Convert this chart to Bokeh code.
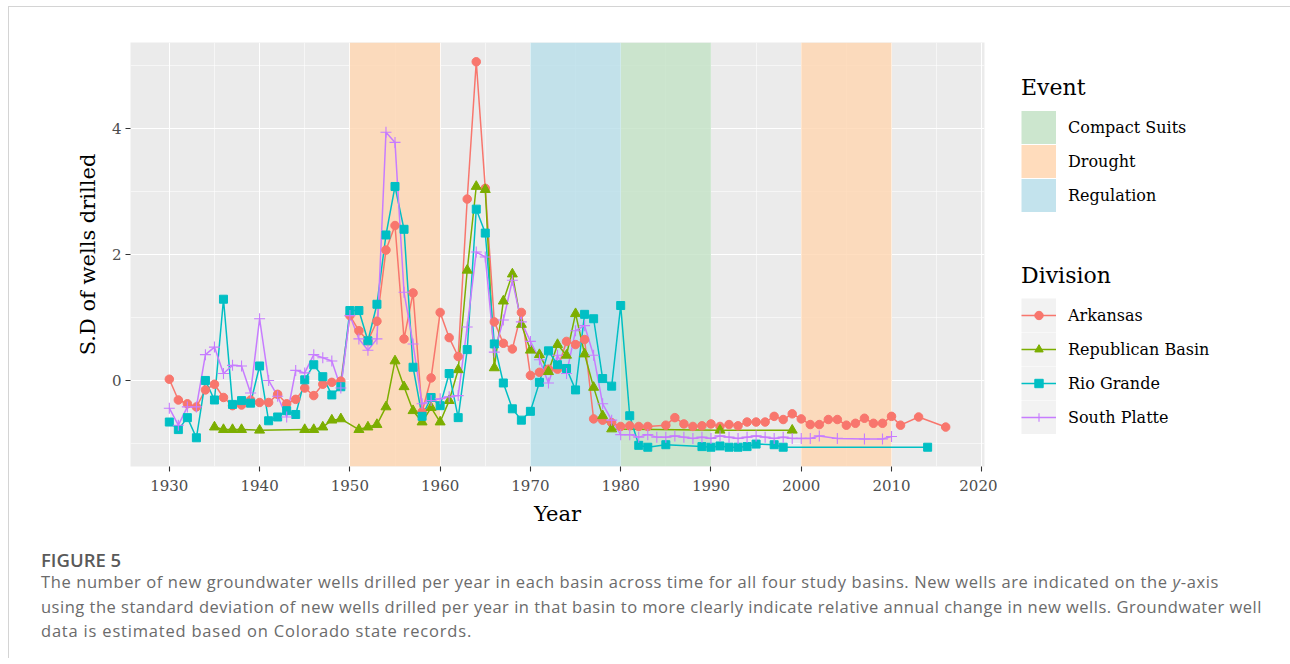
from bokeh.plotting import figure
from bokeh.models import Range1d, FixedTicker, Legend, LegendItem, ColumnDataSource, Div
from bokeh.layouts import column, row
from bokeh.embed import file_html
from bokeh.resources import INLINE

# ---------------- data ----------------
ark_years = [1930, 1931, 1932, 1933, 1934, 1935, 1936, 1937, 1938, 1939,
             1940, 1941, 1942, 1943, 1944, 1945, 1946, 1947, 1948, 1949,
             1950, 1951, 1952, 1953, 1954, 1955, 1956, 1957, 1958, 1959,
             1960, 1961, 1962, 1963, 1964, 1965, 1966, 1967, 1968, 1969,
             1970, 1971, 1972, 1973, 1974, 1975, 1976, 1977, 1978, 1979,
             1980, 1981, 1982, 1983, 1985, 1986, 1987, 1988, 1989,
             1990, 1991, 1992, 1993, 1994, 1995, 1996, 1997, 1998, 1999,
             2000, 2001, 2002, 2003, 2004, 2005, 2006, 2007, 2008, 2009,
             2010, 2011, 2013, 2016]
ark_vals = [0.02, -0.31, -0.37, -0.42, -0.15, -0.06, -0.27, -0.40, -0.39, -0.31,
            -0.35, -0.35, -0.22, -0.37, -0.30, -0.12, -0.24, -0.06, -0.03, -0.01,
            1.03, 0.79, 0.63, 0.94, 2.07, 2.46, 0.66, 1.39, -0.50, 0.04,
            1.08, 0.68, 0.38, 2.88, 5.06, 3.05, 0.93, 0.59, 0.50, 1.08,
            0.08, 0.13, 0.18, 0.18, 0.62, 0.57, 0.65, -0.61, -0.63, -0.67,
            -0.73, -0.72, -0.73, -0.73, -0.71, -0.59, -0.69, -0.73, -0.72,
            -0.69, -0.73, -0.70, -0.72, -0.66, -0.66, -0.66, -0.57, -0.62, -0.53,
            -0.61, -0.70, -0.70, -0.62, -0.62, -0.71, -0.68, -0.60, -0.68, -0.68,
            -0.57, -0.71, -0.58, -0.74]

rep_years = [1935, 1936, 1937, 1938, 1940, 1945, 1946, 1947, 1948, 1949,
             1951, 1952, 1953, 1954, 1955, 1956, 1957, 1958, 1959,
             1960, 1961, 1962, 1963, 1964, 1965, 1966, 1967, 1968, 1969,
             1970, 1971, 1972, 1973, 1974, 1975, 1976, 1977, 1978, 1979,
             1991, 1999]
rep_vals = [-0.74, -0.78, -0.78, -0.78, -0.79, -0.78, -0.78, -0.74, -0.63, -0.61,
            -0.78, -0.74, -0.70, -0.42, 0.31, -0.10, -0.48, -0.66, -0.43,
            -0.66, -0.32, 0.17, 1.75, 3.08, 3.03, 0.20, 1.26, 1.69, 0.89,
            0.48, 0.41, 0.14, 0.57, 0.40, 1.06, 0.42, -0.11, -0.56, -0.77,
            -0.79, -0.79]

rio_years = [1930, 1931, 1932, 1933, 1934, 1935, 1936, 1937, 1938, 1939,
             1940, 1941, 1942, 1943, 1944, 1945, 1946, 1947, 1948, 1949,
             1950, 1951, 1952, 1953, 1954, 1955, 1956, 1957, 1958, 1959,
             1960, 1961, 1962, 1963, 1964, 1965, 1966, 1967, 1968, 1969,
             1970, 1971, 1972, 1973, 1974, 1975, 1976, 1977, 1978, 1979,
             1980, 1981, 1982, 1983, 1985, 1989, 1990, 1991, 1992, 1993,
             1994, 1995, 1997, 1998, 2014]
rio_vals = [-0.66, -0.78, -0.59, -0.91, 0.00, -0.31, 1.29, -0.38, -0.32, -0.36,
            0.23, -0.64, -0.58, -0.48, -0.54, 0.01, 0.25, 0.06, -0.23, -0.10,
            1.11, 1.11, 0.63, 1.21, 2.31, 3.08, 2.40, 0.21, -0.57, -0.27,
            -0.40, 0.11, -0.59, 0.49, 2.72, 2.34, 0.58, -0.04, -0.45, -0.63,
            -0.49, -0.03, 0.47, 0.25, 0.19, -0.15, 1.05, 0.98, 0.03, -0.09,
            1.19, -0.56, -1.03, -1.06, -1.02, -1.05, -1.06, -1.04, -1.06, -1.06,
            -1.05, -1.01, -1.02, -1.06, -1.06]

sp_years = [1930, 1931, 1932, 1933, 1934, 1935, 1936, 1937, 1938, 1939,
            1940, 1941, 1942, 1943, 1944, 1945, 1946, 1947, 1948, 1949,
            1950, 1951, 1952, 1953, 1954, 1955, 1956, 1957, 1958, 1959,
            1960, 1961, 1962, 1963, 1964, 1965, 1966, 1967, 1968, 1969,
            1970, 1971, 1972, 1973, 1974, 1975, 1976, 1977, 1978, 1979,
            1980, 1981, 1982, 1983, 1984, 1985, 1986, 1987, 1988, 1989,
            1990, 1991, 1992, 1993, 1994, 1995, 1996, 1997, 1998, 1999,
            2000, 2001, 2002, 2004, 2007, 2009, 2010]
sp_vals = [-0.44, -0.71, -0.42, -0.42, 0.41, 0.53, 0.11, 0.24, 0.23, -0.20,
           0.98, 0.00, -0.25, -0.58, 0.16, 0.12, 0.41, 0.36, 0.31, -0.12,
           1.03, 0.66, 0.48, 0.66, 3.94, 3.78, 1.40, 0.58, -0.37, -0.32,
           -0.29, -0.26, -0.24, 0.85, 2.04, 1.96, 0.45, 0.96, 1.59, 0.93,
           0.62, 0.33, -0.04, 0.40, 0.11, 0.79, 0.87, 0.40, -0.37, -0.63,
           -0.86, -0.86, -0.90, -0.86, -0.90, -0.90, -0.88, -0.90, -0.92, -0.90,
           -0.92, -0.88, -0.90, -0.92, -0.90, -0.88, -0.90, -0.92, -0.90, -0.92,
           -0.92, -0.92, -0.88, -0.92, -0.93, -0.93, -0.89]

division_names = ["Arkansas", "Republican Basin", "Rio Grande", "South Platte"]
event_names = ["Compact Suits", "Drought", "Drought", "Regulation"]
event_start = [1980, 1950, 2000, 1970]
event_end = [1990, 1960, 2010, 1980]
event_order = ["Compact Suits", "Drought", "Regulation"]

x_ticks = [1930, 1940, 1950, 1960, 1970, 1980, 1990, 2000, 2010, 2020]
x_minor = [1925, 1935, 1945, 1955, 1965, 1975, 1985, 1995, 2005, 2015]
y_ticks = [0, 2, 4]
y_minor = [-1, 1, 3, 5]

# ---------------- styling ----------------
SERIF = "DejaVu Serif"
div_colors = ["#F8766D", "#7CAE00", "#00BFC4", "#C77CFF"]
div_markers = ["circle", "triangle", "square", "cross"]
div_sizes = [8.5, 10, 8, 11]
event_colors = {"Compact Suits": "#C3E2C5", "Drought": "#FFD6B0", "Regulation": "#B8DEEA"}

series = [(ark_years, ark_vals), (rep_years, rep_vals), (rio_years, rio_vals), (sp_years, sp_vals)]
all_x = [x for ys, _ in series for x in ys]
all_y = [v for _, vs in series for v in vs]
dx = (max(all_x) - min(all_x)) * 0.05
dy = (max(all_y) - min(all_y)) * 0.05
x_lo, x_hi = min(all_x) - dx, max(all_x) + dx
y_lo, y_hi = min(all_y) - dy, max(all_y) + dy

BT, BB = 35, 72   # shared top / bottom borders (row aligns them)

p = figure(width=988, height=531,
           x_range=Range1d(x_lo, x_hi), y_range=Range1d(y_lo, y_hi),
           output_backend="svg", toolbar_location=None,
           min_border_left=121, min_border_top=BT, min_border_bottom=BB,
           min_border_right=13,
           background_fill_color="#EBEBEB", border_fill_color="white",
           outline_line_color=None)

p.xaxis.ticker = FixedTicker(ticks=x_ticks, minor_ticks=x_minor)
p.yaxis.ticker = FixedTicker(ticks=y_ticks, minor_ticks=y_minor)
for g in (p.xgrid, p.ygrid):
    g.grid_line_color = "white"
    g.grid_line_width = 1.1
    g.minor_grid_line_color = "white"
    g.minor_grid_line_width = 0.55
for ax in (p.xaxis, p.yaxis):
    ax.axis_line_color = None
    ax.major_tick_line_color = "#333333"
    ax.major_tick_line_width = 1.1
    ax.major_tick_out = 5
    ax.major_tick_in = 0
    ax.minor_tick_line_color = None
    ax.major_label_text_font = SERIF
    ax.major_label_text_font_size = "15px"
    ax.major_label_text_color = "#4D4D4D"
    ax.axis_label_text_font = SERIF
    ax.axis_label_text_font_size = "21px"
    ax.axis_label_text_font_style = "normal"
    ax.axis_label_text_color = "black"
p.xaxis.axis_label = "Year"
p.yaxis.axis_label = "S.D of wells drilled"
p.xaxis.major_label_standoff = 8
p.yaxis.major_label_standoff = 4
p.xaxis.axis_label_standoff = 8
p.yaxis.axis_label_standoff = 9

# event bands
for ev in event_order:
    idx = [i for i, n in enumerate(event_names) if n == ev]
    src = ColumnDataSource(dict(left=[event_start[i] for i in idx],
                                right=[event_end[i] for i in idx]))
    p.quad(left="left", right="right", bottom=y_lo, top=y_hi,
           source=src, fill_color=event_colors[ev],
           fill_alpha=0.8, line_color=None)

# lines then points
for (ys, vs), c in zip(series, div_colors):
    p.line(ys, vs, line_color=c, line_width=1.5)
for (ys, vs), c, m, s in zip(series, div_colors, div_markers, div_sizes):
    if m == "cross":
        p.scatter(ys, vs, marker=m, size=s, line_color=c, line_width=1.1)
    else:
        p.scatter(ys, vs, marker=m, size=s, fill_color=c, line_color=c)

# ---------------- legend panel ----------------
# The legend panel's own ranges (0..1) leave its helper glyphs off-screen;
# only their legend swatches are visible.
pl = figure(width=287, height=531, x_range=Range1d(0, 1), y_range=Range1d(0, 1),
            x_axis_type=None, y_axis_type=None,
            output_backend="svg", toolbar_location=None,
            min_border_left=0, min_border_right=0,
            min_border_top=BT, min_border_bottom=BB,
            background_fill_color="white", border_fill_color="white",
            outline_line_color=None)
pl.grid.visible = False

ev_items = []
for ev in event_order:
    idx = [i for i, n in enumerate(event_names) if n == ev]
    r = pl.line([event_start[i] for i in idx], [y_lo for i in idx],
                line_color=event_colors[ev], line_alpha=0.85,
                line_width=33, line_cap="butt")
    ev_items.append(LegendItem(label=ev, renderers=[r]))

key_bg = pl.line([x_lo, x_hi], [y_lo, y_lo], line_color="#F2F2F2",
                 line_width=34, line_cap="butt")
dv_items, mk_items = [], []
for n, (ys, vs), c, m in zip(division_names, series, div_colors, div_markers):
    lr = pl.line(ys, vs, line_color=c, line_width=1.5)
    if m == "cross":
        sr = pl.scatter(ys, vs, marker=m, line_color=c, line_width=1.1)
    else:
        sr = pl.scatter(ys, vs, marker=m, fill_color=c, line_color=c)
    dv_items.append(LegendItem(label=n, renderers=[key_bg, lr]))
    mk_items.append(LegendItem(label=" ", renderers=[sr]))

common = dict(title_text_font=SERIF, title_text_font_size="22px",
              title_text_font_style="normal", title_text_color="black",
              title_standoff=10,
              label_text_font=SERIF, label_text_font_size="16px",
              label_text_color="black", label_standoff=12,
              glyph_width=35, glyph_height=34, label_height=34,
              spacing=0, padding=0, margin=0,
              background_fill_alpha=0, border_line_color=None)

pl.add_layout(Legend(items=ev_items, title="Event", location=(24, 254), **common))
pl.add_layout(Legend(items=dv_items, title="Division", location=(24, 32), **common))
# narrow-key overlay so that the legend markers keep the plotted marker size
mk_opts = dict(common)
mk_opts.update(glyph_width=21, label_standoff=0, label_text_alpha=0)
pl.add_layout(Legend(items=mk_items, location=(31, 32), **mk_opts))

caption_html = (
    '<div style="font-family:\'Open Sans\';white-space:nowrap;margin-left:27px;">'
    '<div style="font-size:18.5px;font-weight:600;color:#5a5a5a;line-height:19px;margin-top:7px;">FIGURE 5</div>'
    '<div style="font-size:16.5px;color:#6b6b6b;line-height:24.5px;margin-top:1px;">'
    '<span style="letter-spacing:0.6px;">The number of new groundwater wells drilled per year in each basin across '
    'time for all four study basins. New wells are indicated on the <i>y</i>-axis</span><br>'
    '<span style="letter-spacing:0.5px;">using the standard deviation of new wells drilled per year in that basin '
    'to more clearly indicate relative annual change in new wells. Groundwater well</span><br>'
    '<span style="letter-spacing:0.8px;">data is estimated based on Colorado state records.</span></div></div>'
)
cap = Div(text=caption_html, width=1275, height=110)

layout = column(row(p, pl), cap,
                styles={"border-left": "1px solid #d4d4d4",
                        "border-top": "1px solid #d4d4d4",
                        "margin-left": "8px", "margin-top": "6px"})

open("out.html", "w").write(file_html(layout, INLINE))
